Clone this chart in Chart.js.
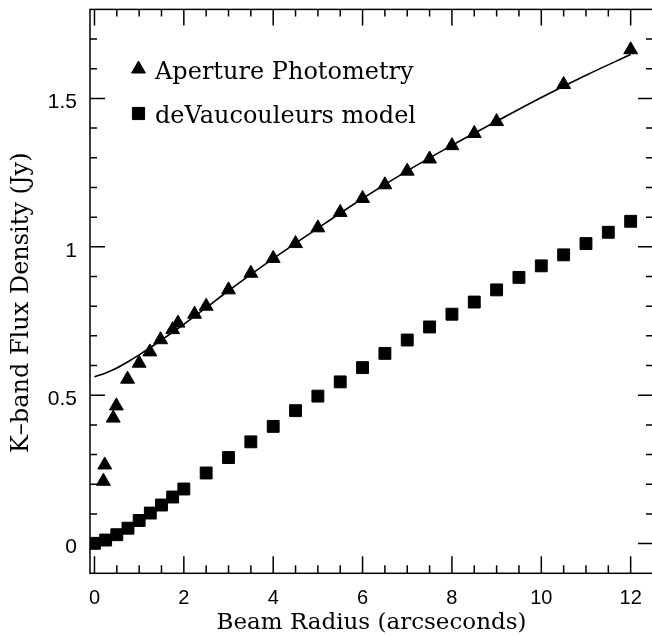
<!DOCTYPE html>
<html>
<head>
<meta charset="utf-8">
<script src="https://cdn.jsdelivr.net/npm/chart.js@4/dist/chart.umd.min.js"></script>
<style>
  html, body { margin: 0; padding: 0; background: #fff; overflow: hidden; }
  #wrap { width: 700px; height: 635px; position: relative; }
  canvas { display: block; }
</style>
</head>
<body>
<div id="wrap"><canvas id="c" width="700" height="635"></canvas></div>
<script>
// Aperture photometry (triangles)
const apertureX = [0.2, 0.23, 0.42, 0.49, 0.74, 1.0, 1.24, 1.48, 1.75, 1.87, 2.24, 2.5, 3, 3.5, 4, 4.5, 5, 5.5, 6, 6.5, 7, 7.5, 8, 8.5, 9, 10.5, 12];
const apertureY = [0.21, 0.265, 0.423, 0.464, 0.554, 0.608, 0.646, 0.687, 0.721, 0.743, 0.773, 0.80, 0.855, 0.911, 0.961, 1.011, 1.064, 1.116, 1.163, 1.209, 1.255, 1.296, 1.341, 1.382, 1.422, 1.547, 1.664];
// deVaucouleurs model (squares)
const modelX = [0, 0.25, 0.5, 0.75, 1, 1.25, 1.5, 1.75, 2, 2.5, 3, 3.5, 4, 4.5, 5, 5.5, 6, 6.5, 7, 7.5, 8, 8.5, 9, 9.5, 10, 10.5, 11, 11.5, 12];
const modelY = [0.001, 0.012, 0.03, 0.052, 0.078, 0.103, 0.13, 0.157, 0.184, 0.238, 0.29, 0.343, 0.395, 0.448, 0.497, 0.545, 0.593, 0.641, 0.686, 0.73, 0.773, 0.814, 0.855, 0.897, 0.936, 0.973, 1.011, 1.049, 1.086];
// fitted curve (solid line)
const fitX = [0, 0.25, 0.5, 0.75, 1, 1.5, 2, 2.5, 3, 4, 5, 6, 7, 8, 9, 10, 11, 12];
const fitY = [0.562, 0.575, 0.592, 0.613, 0.636, 0.686, 0.739, 0.795, 0.852, 0.96, 1.063, 1.163, 1.256, 1.342, 1.423, 1.503, 1.578, 1.648];

const seriesLabels = ['Aperture Photometry', 'deVaucouleurs model'];
const xTitle = 'Beam Radius (arcseconds)';
const yTitle = 'K\u2013band Flux Density (Jy)\u00a0\u00a0\u00a0';
const xRange = [-0.1, 12.5];
const yRange = [-0.1, 1.8];

const zip = (xs, ys) => xs.map((x, i) => ({x: x, y: ys[i]}));

const SERIF = '"DejaVu Serif", serif';
const SANS = '"Liberation Sans", Arial, sans-serif';

const frameTicks = {
  id: 'frameTicks',
  afterDatasetsDraw(chart) {
    const {ctx, chartArea: a, scales: {x, y}} = chart;
    ctx.save();
    ctx.strokeStyle = '#000';
    ctx.lineWidth = 1.5;
    ctx.strokeRect(a.left, a.top, a.right - a.left, a.bottom - a.top);
    ctx.beginPath();
    for (let i = 0; i <= 24; i++) {
      const v = i * 0.5;
      const px = x.getPixelForValue(v);
      const major = (i % 4 === 0);
      const lb = major ? 17 : 8, lt = major ? 16 : 7;
      ctx.moveTo(px, a.bottom); ctx.lineTo(px, a.bottom - lb);
      ctx.moveTo(px, a.top); ctx.lineTo(px, a.top + lt);
    }
    for (let i = 0; i <= 17; i++) {
      const v = i * 0.1;
      const py = y.getPixelForValue(v);
      const major = (i % 5 === 0);
      const l = major ? 15 : 7;
      ctx.moveTo(a.left, py); ctx.lineTo(a.left + l, py);
      ctx.moveTo(a.right, py); ctx.lineTo(a.right - l, py);
    }
    ctx.stroke();
    ctx.restore();
  }
};

const legendPlugin = {
  id: 'customLegend',
  afterDraw(chart) {
    const {ctx} = chart;
    const items = [
      {style: 'triangle', r: 8, text: chart.data.datasets[0].label, mx: 138.5, my: 69, ty: 79},
      {style: 'rect', r: 8.6, text: chart.data.datasets[1].label, mx: 138.5, my: 113.5, ty: 123}
    ];
    ctx.save();
    items.forEach(it => {
      ctx.fillStyle = '#000';
      ctx.strokeStyle = '#000';
      ctx.lineWidth = 1;
      Chart.helpers.drawPoint(ctx, {pointStyle: it.style, radius: it.r, borderWidth: 1, rotation: 0}, it.mx, it.my);
      ctx.font = '24px ' + SERIF;
      ctx.textBaseline = 'alphabetic';
      ctx.textAlign = 'left';
      ctx.fillText(it.text, 155, it.ty);
    });
    ctx.restore();
  }
};

new Chart(document.getElementById('c'), {
  type: 'scatter',
  data: {
    datasets: [
      {
        label: seriesLabels[0],
        data: zip(apertureX, apertureY),
        pointStyle: 'triangle',
        pointRadius: 8,
        pointHoverRadius: 8,
        backgroundColor: '#000',
        borderColor: '#000',
        borderWidth: 1,
        showLine: false,
        order: 1
      },
      {
        label: seriesLabels[1],
        data: zip(modelX, modelY),
        pointStyle: 'rect',
        pointRadius: 8.4,
        pointHoverRadius: 8.4,
        backgroundColor: '#000',
        borderColor: '#000',
        borderWidth: 1,
        showLine: false,
        order: 2
      },
      {
        label: 'fit',
        type: 'line',
        data: zip(fitX, fitY),
        borderColor: '#000',
        borderWidth: 1.6,
        pointRadius: 0,
        fill: false,
        cubicInterpolationMode: 'monotone',
        order: 3
      }
    ]
  },
  options: {
    responsive: false,
    animation: false,
    devicePixelRatio: 1,
    layout: { padding: { left: 0, right: 47, top: 9, bottom: 0 } },
    plugins: { legend: { display: false }, tooltip: { enabled: false } },
    scales: {
      x: {
        type: 'linear',
        min: xRange[0], max: xRange[1],
        afterFit(s) { s.height = 61.7; s.paddingLeft = 0; s.paddingRight = 0; },
        grid: { display: false, drawTicks: false },
        border: { display: false },
        ticks: { stepSize: 2, includeBounds: false, padding: 13.6, color: '#000', font: { family: SANS, size: 20 },
                 callback: v => String(+v.toFixed(2)) },
        title: { display: true, text: xTitle, color: '#000', font: { family: SERIF, size: 23, lineHeight: 1 }, padding: { top: 0, bottom: 0 } }
      },
      y: {
        type: 'linear',
        min: yRange[0], max: yRange[1],
        afterFit(s) { s.width = 90; s.paddingTop = 0; s.paddingBottom = 0; },
        grid: { display: false, drawTicks: false },
        border: { display: false },
        ticks: { stepSize: 0.5, includeBounds: false, padding: 13, labelOffset: 4, color: '#000', font: { family: SANS, size: 21 },
                 callback: v => String(+v.toFixed(2)) },
        title: { display: true, text: yTitle, color: '#000', font: { family: SERIF, size: 24, lineHeight: 1 }, padding: { top: 10, bottom: 0 } }
      }
    }
  },
  plugins: [frameTicks, legendPlugin]
});
</script>
</body>
</html>
